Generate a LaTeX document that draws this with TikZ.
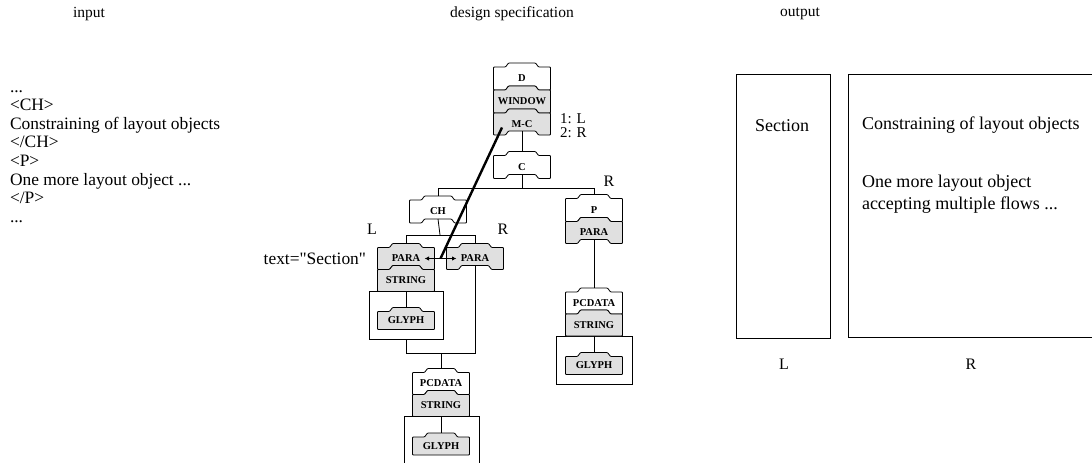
\documentclass[tikz,border=0pt]{standalone}
\usepackage{fontspec}
\setmainfont{Liberation Serif}
\usetikzlibrary{calc,arrows.meta}
% #1 name, #2 cx, #3 cy, #4 half height, #5 fill, #6 bottom notch, #7 text
\newcommand\tband[7]{%
  \path[tabshape, fill=#5] (#2-28.5,#3-#4) -- (#2-16.5,#3-#4) -- (#2-13.5,#3-#4-4) -- (#2+13.5,#3-#4-4) -- (#2+16.5,#3-#4) -- (#2+28.5,#3-#4) -- (#2+28.5,#3+#4) -- (#2+16.5,#3+#4) -- (#2+13.5,#3+#4-#6) -- (#2-13.5,#3+#4-#6) -- (#2-16.5,#3+#4) -- (#2-28.5,#3+#4) -- cycle;
  \node[boxlabel, minimum height=2*#4 pt] (#1) at (#2,#3) {#7};
}
\begin{document}
\begin{tikzpicture}[x=1pt,y=-1pt,
  every node/.style={inner sep=0pt, outer sep=0pt},
  txt/.style={font=\fontsize{17.4}{20}\selectfont, anchor=west, text height=11pt, text depth=3pt},
  ttl/.style={font=\fontsize{15.5}{18}\selectfont},
  lbl/.style={font=\fontsize{16}{18}\selectfont, text height=10.5pt, text depth=1pt},
  smlbl/.style={font=\fontsize{15}{17}\selectfont, text height=10pt, text depth=0.5pt},
  outtxt/.style={font=\fontsize{18}{21}\selectfont},
  boxlabel/.style={font=\fontsize{10.5}{11}\selectfont\bfseries, minimum width=57pt},
  tabshape/.style={draw, line width=0.8pt, line join=round, rounded corners=0.8pt},
  conn/.style={line width=0.8pt},
  plainbox/.style={draw, line width=0.8pt, fill=white},
]
\useasboundingbox (0,0) rectangle (1092,463);

% titles
\node[ttl] (tin) at (89,14) {input};
\node[ttl] (tds) at (512,14) {design specification};
\node[ttl] (tout) at (800,14) {output};

% input text
\node[txt] (i1) at (10,88) {...};
\node[txt] (i2) at (10,106.6) {<CH>};
\node[txt] (i3) at (10,125.2) {Constraining of layout objects};
\node[txt] (i4) at (10,143.8) {</CH>};
\node[txt] (i5) at (10,162.4) {<P>};
\node[txt] (i6) at (10,181) {One more layout object ...};
\node[txt] (i7) at (10,199.6) {</P>};
\node[txt] (i8) at (10,218.2) {...};

% D stack
\tband{d}{522}{78.5}{11.5}{white}{4}{D}
\tband{win}{522}{101.5}{11.5}{gray!24}{4}{WINDOW}
\tband{mc}{522}{124}{11}{gray!24}{4}{M-C}
\node[smlbl, anchor=west] (l1) at (560,118.5) {1: L};
\node[smlbl, anchor=west] (l2) at (560,133) {2: R};

% C
\tband{c}{522}{167}{11.5}{white}{4}{C}
\draw[conn] ([yshift=4pt]mc.south) -- ([yshift=4pt]c.north);
\coordinate (hjc) at (522,188);
\draw[conn] ([yshift=4pt]c.south) -- (hjc);

% CH
\tband{ch}{438}{211.5}{11.5}{white}{4}{CH}
% P stack
\tband{p}{594}{210}{11.5}{white}{4}{P}
\tband{pparaR}{594}{232.5}{11}{gray!24}{4}{PARA}
\draw[conn] ([yshift=4pt]ch.north) -- (ch.north |- hjc) -- (p.north |- hjc) -- ([yshift=4pt]p.north);
\node[lbl] (rlab1) at (609,182) {R};

% left PARA stack
\coordinate (hjch) at (440,235);
\node[plainbox, minimum width=74pt, minimum height=47.5pt, anchor=north] (bigL) at (406,291.5) {};
\tband{paraL}{406}{258.5}{11}{gray!24}{4}{PARA}
\tband{strL}{406}{280.5}{11}{gray!24}{0}{STRING}
\tband{glL}{406}{320.5}{9}{gray!24}{0}{GLYPH}
\draw[conn] (strL.south) -- ([yshift=4pt]glL.north);
\tband{paraR}{475}{258.5}{11}{gray!24}{4}{PARA}
\draw[conn] ([yshift=4pt]ch.south) -- (hjch);
\draw[conn] ([yshift=4pt]paraL.north) -- (paraL.north |- hjch) -- (paraR.north |- hjch) -- ([yshift=4pt]paraR.north);
\node[lbl] (llab) at (372,230) {L};
\node[lbl] (rlab2) at (503,230) {R};
\node[txt, anchor=east] (sect) at (366,260) {text=\textquotedbl Section\textquotedbl};

% flow arrow and link
\draw[{Latex[length=4.5pt,width=4.5pt]}-{Latex[length=4.5pt,width=4.5pt]}, line width=1.6pt] ([xshift=-10pt]paraL.east) -- ([xshift=10pt]paraR.west);
\coordinate (amid) at ($(paraL.east)!0.5!(paraR.west)$);
\coordinate (dstart) at ($(mc.center)+(-20,3.5)$);
\draw[line width=2.4pt] (dstart) -- (amid);

% join below
\coordinate (hj2) at (441,353);
\draw[conn] (bigL.south) -- (bigL.south |- hj2) -- (paraR.south |- hj2) -- ([yshift=4pt]paraR.south);

% bottom stack
\draw[plainbox] (404,463) -- (404,416.5) -- (479,416.5) -- (479,463);
\tband{pcB}{441}{383.5}{11}{white}{4}{PCDATA}
\tband{strB}{441}{405.5}{11}{gray!24}{0}{STRING}
\tband{glB}{441}{446}{9}{gray!24}{0}{GLYPH}
\draw[conn] (strB.south) -- ([yshift=4pt]glB.north);
\draw[conn] (hj2) -- ([yshift=4pt]pcB.north);

% right stack
\node[plainbox, minimum width=76pt, minimum height=48pt, anchor=north] (bigR) at (594,336) {};
\tband{pcR}{594}{303}{11}{white}{4}{PCDATA}
\tband{strR}{594}{325}{11}{gray!24}{0}{STRING}
\tband{glR}{594}{365.5}{9}{gray!24}{0}{GLYPH}
\draw[conn] (strR.south) -- ([yshift=4pt]glR.north);
\draw[conn] ([yshift=4pt]pparaR.south) -- ([yshift=4pt]pcR.north);

% output
\node[draw, line width=0.9pt, minimum width=94pt, minimum height=264pt, anchor=north west] (boxL) at (736,74) {};
\coordinate (rtl) at (1092,74);
\coordinate (rbl) at (1092,337);
\draw[line width=0.9pt] (rtl) -- (848,74) -- (848,337) -- (rbl);
\node[outtxt] (secout) at (782,126) {Section};
\node[outtxt, anchor=west] (o1) at (862,125) {Constraining of layout objects};
\node[outtxt, anchor=west] (o2) at (862,183) {One more layout object};
\node[outtxt, anchor=west] (o3) at (862,205) {accepting multiple flows ...};
\node[lbl] (lout) at (784,365) {L};
\node[lbl] (rout) at (971,365) {R};
\end{tikzpicture}
\end{document}
